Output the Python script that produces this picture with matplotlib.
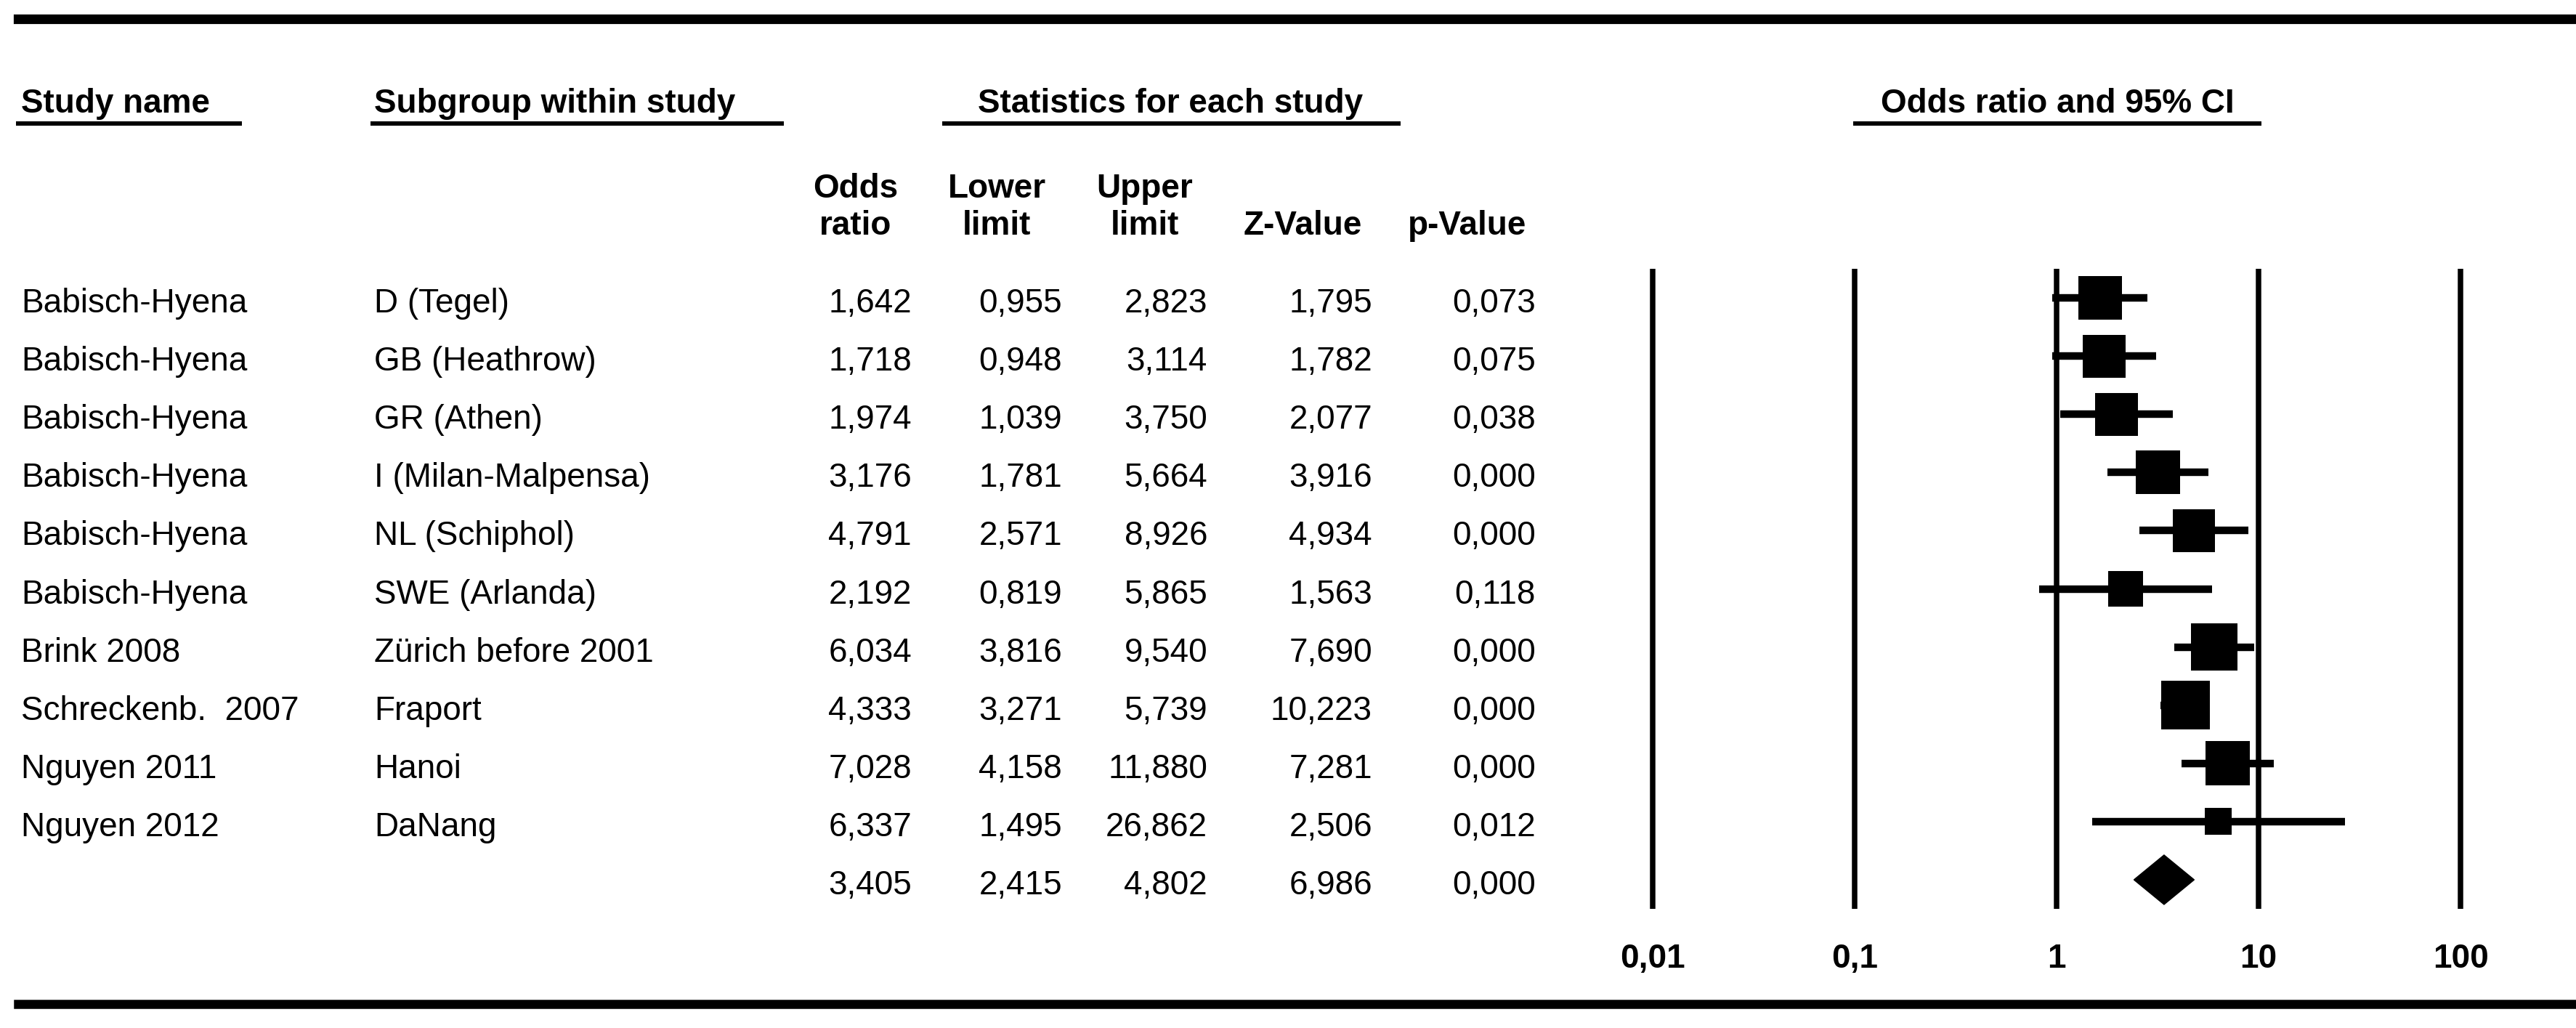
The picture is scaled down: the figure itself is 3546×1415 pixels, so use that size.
import matplotlib
matplotlib.use("Agg")
import matplotlib.pyplot as plt
from matplotlib import font_manager
from matplotlib.transforms import blended_transform_factory
from matplotlib.patches import Polygon

# --- data ---
study = ["Babisch-Hyena", "Babisch-Hyena", "Babisch-Hyena", "Babisch-Hyena",
         "Babisch-Hyena", "Babisch-Hyena", "Brink 2008", "Schreckenb.  2007",
         "Nguyen 2011", "Nguyen 2012"]
subgroup = ["D (Tegel)", "GB (Heathrow)", "GR (Athen)", "I (Milan-Malpensa)",
            "NL (Schiphol)", "SWE (Arlanda)", "Zürich before 2001", "Fraport",
            "Hanoi", "DaNang"]
odds = [1.642, 1.718, 1.974, 3.176, 4.791, 2.192, 6.034, 4.333, 7.028, 6.337]
lower = [0.955, 0.948, 1.039, 1.781, 2.571, 0.819, 3.816, 3.271, 4.158, 1.495]
upper = [2.823, 3.114, 3.750, 5.664, 8.926, 5.865, 9.540, 5.739, 11.880, 26.862]
zval = [1.795, 1.782, 2.077, 3.916, 4.934, 1.563, 7.690, 10.223, 7.281, 2.506]
pval = [0.073, 0.075, 0.038, 0.000, 0.000, 0.118, 0.000, 0.000, 0.000, 0.012]
# relative study weight (box size)
rel_weight = [0.90, 0.88, 0.88, 0.90, 0.87, 0.72, 0.96, 1.00, 0.91, 0.55]

# pooled estimate
sum_odds, sum_lower, sum_upper, sum_z, sum_p = 3.405, 2.415, 4.802, 6.986, 0.000

ticks = [0.01, 0.1, 1, 10, 100]
tick_labels = ["0,01", "0,1", "1", "10", "100"]

# --- fonts ---
names = {f.name for f in font_manager.fontManager.ttflist}
if "Liberation Sans Narrow" in names:
    FAM, FS = "Liberation Sans Narrow", 40
else:
    FAM, FS = "Liberation Sans", 33
plt.rcParams["font.family"] = [FAM, "DejaVu Sans"]
plt.rcParams["font.size"] = FS

W, H = 3546, 1415
fig = plt.figure(figsize=(W / 100, H / 100), dpi=100)
fig.patch.set_facecolor("white")


def fx(px):
    return px / W


def fy(py):
    return 1 - py / H


def fmt(v):
    return f"{v:.3f}".replace(".", ",")


# forest plot axes: 0.01 .. 100 between x=2275 and x=3387 px
ax = fig.add_axes([fx(2275), fy(1251), fx(3387 - 2275), (1251 - 370) / H])
ax.set_xscale("log")
ax.set_xlim(0.01, 100)
ax.set_ylim(10.5, -0.5)
ax.axis("off")

ax.vlines(ticks, -0.5, 10.5, color="black", lw=5.4, clip_on=False)

rows = list(range(len(study)))
ax.hlines(rows, lower, upper, color="black", lw=7.5, zorder=3)
box_max = 67 * 0.72
ax.scatter(odds, rows, marker="s", s=[(box_max * w) ** 2 for w in rel_weight],
           c="black", linewidths=0, zorder=4)

sr = len(study)
dh = 0.425
ax.add_patch(Polygon([(sum_lower, sr), (sum_odds, sr - dh), (sum_upper, sr), (sum_odds, sr + dh)],
                     closed=True, color="black", zorder=4, clip_on=False))

tr_tick = blended_transform_factory(ax.transData, fig.transFigure)
for t, lab in zip(ticks, tick_labels):
    ax.text(t, fy(1332), lab, transform=tr_tick, ha="center", va="baseline",
            fontweight="bold")

# rules
fig.add_artist(plt.Line2D([fx(25), fx(3544)], [fy(26), fy(26)], color="black", lw=9.5))
fig.add_artist(plt.Line2D([fx(25), fx(3544)], [fy(1382), fy(1382)], color="black", lw=9))

# headers
hdr_base = 155
fig.text(fx(29), fy(hdr_base), "Study name", ha="left", va="baseline", fontweight="bold")
fig.text(fx(515), fy(hdr_base), "Subgroup within study", ha="left", va="baseline", fontweight="bold")
fig.text(fx(1611), fy(hdr_base), "Statistics for each study", ha="center", va="baseline", fontweight="bold")
fig.text(fx(2832), fy(hdr_base), "Odds ratio and 95% CI", ha="center", va="baseline", fontweight="bold")
for x0, x1 in [(25, 330), (513, 1076), (1300, 1925), (2554, 3110)]:
    fig.add_artist(plt.Line2D([fx(x0), fx(x1)], [fy(170), fy(170)], color="black", lw=4.3))

sub_heads = [("Odds\nratio", 1178), ("Lower\nlimit", 1372), ("Upper\nlimit", 1576),
             ("Z-Value", 1793), ("p-Value", 2020)]
for lab, xc in sub_heads:
    fig.text(fx(xc), fy(323), lab, ha="center", va="baseline", fontweight="bold",
             multialignment="center", linespacing=1.2)

# table rows
tr_row = blended_transform_factory(fig.transFigure, ax.transData)
col_right = [1255, 1462, 1662, 1889, 2114]
off = 0.25
for i in rows:
    fig.text(fx(29), i + off, study[i], transform=tr_row, ha="left", va="baseline")
    fig.text(fx(515), i + off, subgroup[i], transform=tr_row, ha="left", va="baseline")
    for xr, v in zip(col_right, [odds[i], lower[i], upper[i], zval[i], pval[i]]):
        fig.text(fx(xr), i + off, fmt(v), transform=tr_row, ha="right", va="baseline")
for xr, v in zip(col_right, [sum_odds, sum_lower, sum_upper, sum_z, sum_p]):
    fig.text(fx(xr), sr + off, fmt(v), transform=tr_row, ha="right", va="baseline")

fig.savefig("out.png", dpi=100, facecolor="white")
